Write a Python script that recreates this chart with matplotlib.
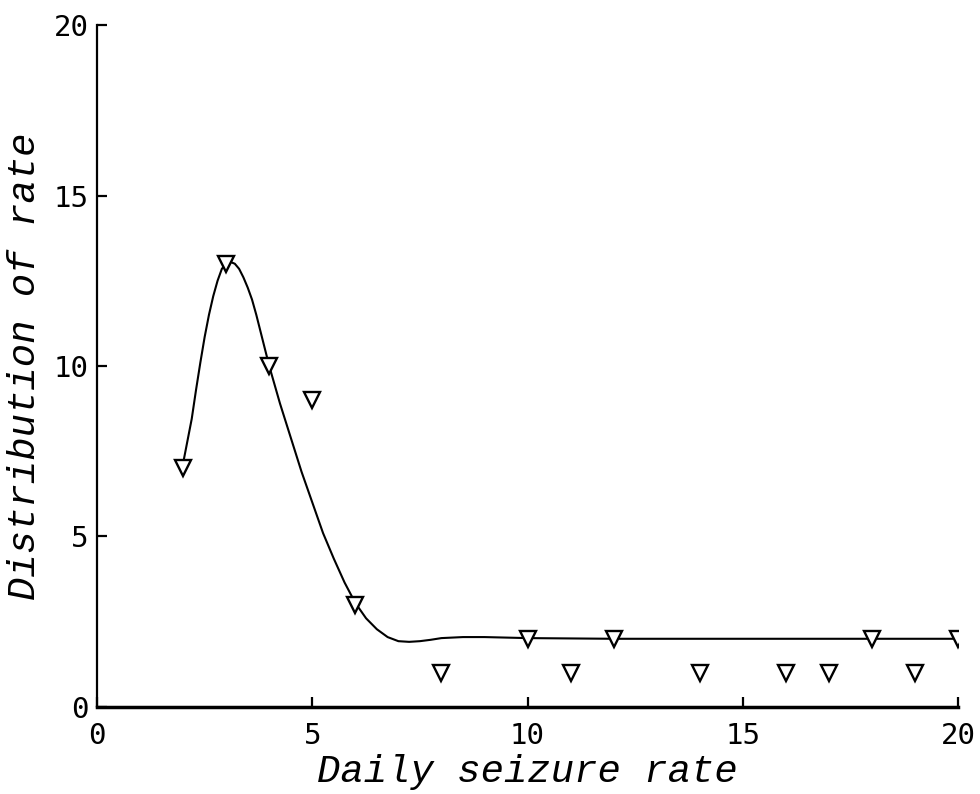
import matplotlib
matplotlib.use("Agg")
import matplotlib.pyplot as plt

# observed data points
rate_x = [2, 3, 4, 5, 6, 8, 10, 11, 12, 14, 16, 17, 18, 19, 20]
dist_y = [7, 13, 10, 9, 3, 1, 2, 1, 2, 1, 1, 1, 2, 1, 2]

# fitted smooth curve
curve_x = [2.0, 2.1, 2.2, 2.3, 2.4, 2.5, 2.6, 2.7, 2.8, 2.9, 3.0, 3.1, 3.2, 3.3,
           3.4, 3.5, 3.6, 3.7, 3.8, 3.9, 4.0, 4.25, 4.5, 4.75, 5.0, 5.25, 5.5,
           5.75, 6.0, 6.25, 6.5, 6.75, 7.0, 7.25, 7.5, 7.75, 8.0, 8.5, 9.0,
           10.0, 12.0, 14.0, 16.0, 18.0, 20.0]
curve_y = [7.15, 7.8, 8.45, 9.3, 10.1, 10.85, 11.5, 12.05, 12.5, 12.85, 13.0,
           13.05, 13.0, 12.85, 12.6, 12.3, 11.95, 11.5, 11.0, 10.5, 10.0, 8.9,
           7.9, 6.9, 6.0, 5.1, 4.35, 3.65, 3.05, 2.6, 2.28, 2.05, 1.93, 1.91,
           1.93, 1.97, 2.02, 2.05, 2.05, 2.02, 2.0, 2.0, 2.0, 2.0, 2.0]

xticks = [0, 5, 10, 15, 20]
yticks = [0, 5, 10, 15, 20]

fig = plt.figure(figsize=(9.8, 7.94), dpi=100)
ax = fig.add_axes([0.099, 0.1096, 0.8786, 0.8589])

ax.plot(curve_x, curve_y, color="black", lw=1.5)
ax.plot(rate_x, dist_y, linestyle="none", marker="v", markersize=11,
        markerfacecolor="white", markeredgecolor="black", markeredgewidth=1.7)

ax.set_xlim(0, 20)
ax.set_ylim(0, 20)
ax.set_xticks(xticks)
ax.set_yticks(yticks)
ax.set_xticklabels([str(t) for t in xticks], family="DejaVu Sans Mono", fontsize=21)
ax.set_yticklabels([str(t) for t in yticks], family="DejaVu Sans Mono", fontsize=21)

for s in ["top", "right"]:
    ax.spines[s].set_visible(False)
ax.spines["left"].set_linewidth(1.6)
ax.spines["bottom"].set_linewidth(2.5)

ax.tick_params(axis="x", direction="in", length=7, width=1.6, pad=11)
ax.tick_params(axis="y", direction="in", length=7, width=1.6, pad=6)

ax.set_xlabel("Daily seizure rate", family="Liberation Mono", style="italic",
              fontsize=28, labelpad=3)
ax.set_ylabel("Distribution of rate", family="Liberation Mono", style="italic",
              fontsize=28, labelpad=8)

fig.savefig("out.png", dpi=100, facecolor="white")
